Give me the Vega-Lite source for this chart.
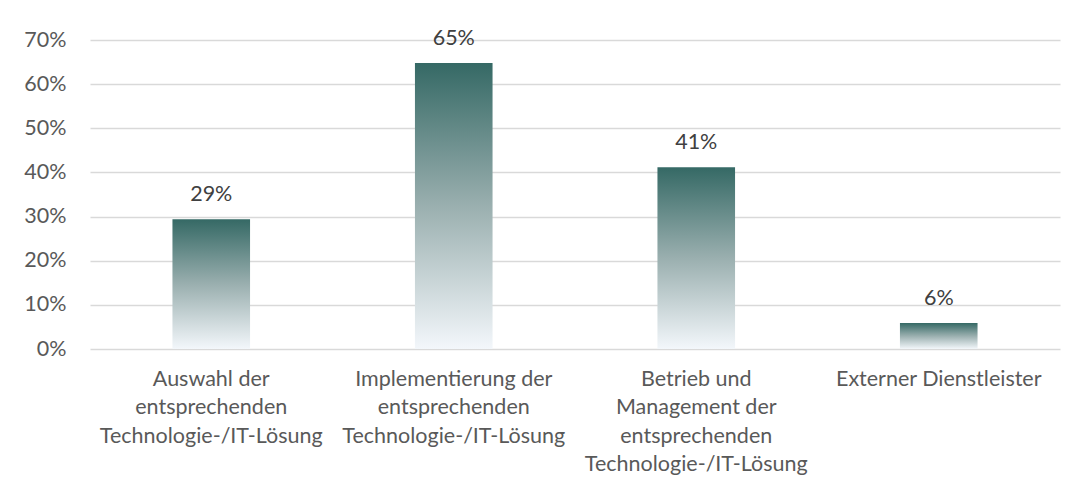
{
  "$schema": "https://vega.github.io/schema/vega-lite/v6.json",
  "autosize": {"type": "none"},
  "width": 970,
  "height": 309,
  "padding": {"left": 90, "top": 40, "right": 19, "bottom": 141},
  "background": "white",
  "config": {
    "view": {"stroke": null},
    "font": "Lato"
  },
  "data": {
    "values": [
      {"Kategorie": "Auswahl der|entsprechenden|Technologie-/IT-Lösung", "Anteil": 0.294, "Label": "29%"},
      {"Kategorie": "Implementierung der|entsprechenden|Technologie-/IT-Lösung", "Anteil": 0.648, "Label": "65%"},
      {"Kategorie": "Betrieb und|Management der|entsprechenden|Technologie-/IT-Lösung", "Anteil": 0.412, "Label": "41%"},
      {"Kategorie": "Externer Dienstleister", "Anteil": 0.059, "Label": "6%"}
    ]
  },
  "encoding": {
    "x": {
      "field": "Kategorie",
      "type": "nominal",
      "sort": null,
      "scale": {"paddingInner": 0.68, "paddingOuter": 0.34},
      "axis": {
        "title": null,
        "labelAngle": 0,
        "domain": false,
        "ticks": false,
        "labelExpr": "split(datum.value, '|')",
        "labelFont": "Lato",
        "labelFontSize": 21.5,
        "labelColor": "#595959",
        "labelLineHeight": 28.5,
        "labelPadding": 19,
        "labelBaseline": "top",
        "labelLimit": 0,
        "labelOverlap": false
      }
    },
    "y": {
      "field": "Anteil",
      "type": "quantitative",
      "scale": {"domain": [0, 0.7], "nice": false},
      "axis": {
        "title": null,
        "format": ".0%",
        "values": [0, 0.1, 0.2, 0.3, 0.4, 0.5, 0.6, 0.7],
        "domain": false,
        "ticks": false,
        "labelFont": "Lato",
        "labelFontSize": 21.5,
        "labelColor": "#595959",
        "labelPadding": 24,
        "gridColor": "#d9d9d9",
        "gridWidth": 1.5
      }
    }
  },
  "layer": [
    {
      "mark": {
        "type": "bar",
        "color": {
          "gradient": "linear",
          "x1": 0, "y1": 0, "x2": 0, "y2": 1,
          "stops": [
            {"offset": 0, "color": "#356965"},
            {"offset": 0.5, "color": "#9aafaf"},
            {"offset": 1, "color": "#f3f7fb"}
          ]
        }
      }
    },
    {
      "mark": {
        "type": "text",
        "font": "Lato",
        "fontSize": 21.5,
        "color": "#404040",
        "baseline": "alphabetic",
        "dy": -18
      },
      "encoding": {"text": {"field": "Label"}}
    }
  ]
}
